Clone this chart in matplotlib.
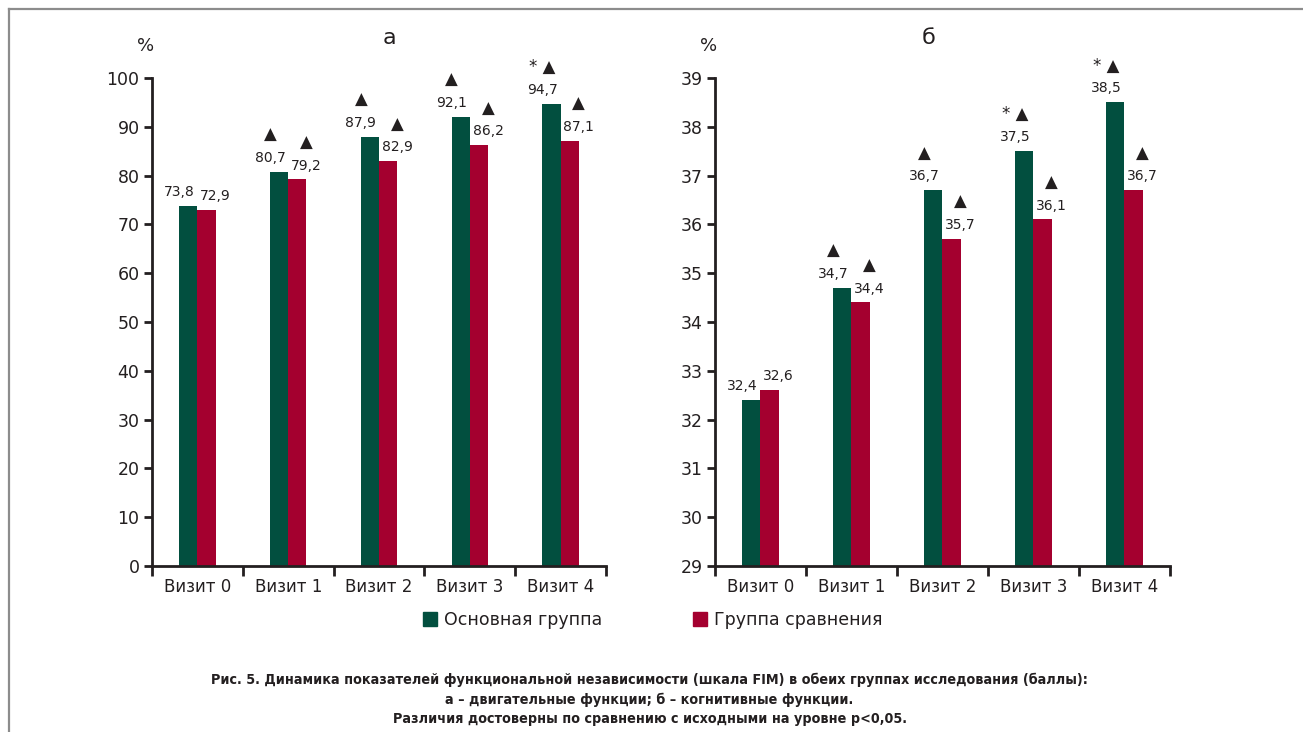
import matplotlib
matplotlib.use('Agg')
import matplotlib.pyplot as plt
from matplotlib.lines import Line2D
from matplotlib.patches import Patch

plt.rcParams['font.family'] = ['DejaVu Sans']

visits = ['Визит 0', 'Визит 1', 'Визит 2', 'Визит 3', 'Визит 4']
groups = ['Основная группа', 'Группа сравнения']

# а - motor functions
motor_main = [73.8, 80.7, 87.9, 92.1, 94.7]
motor_comp = [72.9, 79.2, 82.9, 86.2, 87.1]
motor_main_marks = ['', '▲', '▲', '▲', '* ▲']
motor_comp_marks = ['', '▲', '▲', '▲', '▲']

# б - cognitive functions
cogn_main = [32.4, 34.7, 36.7, 37.5, 38.5]
cogn_comp = [32.6, 34.4, 35.7, 36.1, 36.7]
cogn_main_marks = ['', '▲', '▲', '* ▲', '* ▲']
cogn_comp_marks = ['', '▲', '▲', '▲', '▲']

GREEN = '#024f3f'
RED = '#a4002f'
INK = '#231f20'
W = 0.2

fig = plt.figure(figsize=(13.03, 7.32), dpi=100)


def panel(rect, main, comp, main_marks, comp_marks, ymin, ymax, step, title, title_x):
    ax = fig.add_axes(rect)
    x = list(range(len(visits)))
    ax.bar([i - W / 2 for i in x], main, W, color=GREEN, bottom=0)
    ax.bar([i + W / 2 for i in x], comp, W, color=RED, bottom=0)
    ax.set_xlim(-0.5, len(visits) - 0.5)
    ax.set_ylim(ymin, ymax)
    ax.set_yticks(range(ymin, ymax + 1, step))
    ax.set_xticks(x)
    ax.set_xticklabels(visits, fontsize=12, color=INK)
    ax.set_xticks([i - 0.5 for i in range(len(visits) + 1)], minor=True)
    ax.tick_params(axis='x', which='major', length=0, pad=9)
    ax.tick_params(axis='x', which='minor', length=7, width=2, color=INK, direction='out')
    ax.tick_params(axis='y', length=6, width=2, color=INK, labelsize=12.5, labelcolor=INK, pad=3)
    for s in ['top', 'right']:
        ax.spines[s].set_visible(False)
    for s in ['left', 'bottom']:
        ax.spines[s].set_linewidth(2)
        ax.spines[s].set_color(INK)

    # value labels, with significance marks above them
    for i in x:
        for val, mark, dx in [(main[i], main_marks[i], -0.2),
                              (comp[i], comp_marks[i], 0.2)]:
            lx = i + dx
            ax.annotate(f'{val:.1f}'.replace('.', ','), (lx, val), xytext=(0, 5),
                        textcoords='offset points', ha='center', va='bottom',
                        fontsize=10, color=INK, annotation_clip=False)
            if mark:
                ax.annotate(mark, (lx, val), xytext=(0, 20),
                            textcoords='offset points', ha='center', va='bottom',
                            fontsize=12, color=INK, annotation_clip=False)

    fig.text(rect[0] - 0.005, 0.925, '%', fontsize=13, ha='center', va='bottom', color=INK)
    fig.text(title_x, 0.935, title, fontsize=16, ha='center', va='bottom', color=INK)
    return ax


panel([0.1167, 0.2268, 0.3484, 0.6667], motor_main, motor_comp,
      motor_main_marks, motor_comp_marks, 0, 100, 10, 'а', 0.299)
panel([0.5487, 0.2268, 0.3492, 0.6667], cogn_main, cogn_comp,
      cogn_main_marks, cogn_comp_marks, 29, 39, 1, 'б', 0.713)

# legend
handles = [Patch(color=GREEN), Patch(color=RED)]
fig.legend(handles[:1], groups[:1], loc='center left', bbox_to_anchor=(0.313, 0.153),
           frameon=False, fontsize=12.5, handlelength=0.8, handleheight=0.8,
           handletextpad=0.4, labelcolor=INK)
fig.legend(handles[1:], groups[1:], loc='center left', bbox_to_anchor=(0.52, 0.153),
           frameon=False, fontsize=12.5, handlelength=0.8, handleheight=0.8,
           handletextpad=0.4, labelcolor=INK)

caption = ['Рис. 5. Динамика показателей функциональной независимости (шкала FIM) в обеих группах исследования (баллы):',
           'а – двигательные функции; б – когнитивные функции.',
           'Различия достоверны по сравнению с исходными на уровне р<0,05.']
for k, line in enumerate(caption):
    fig.text(0.4985, 0.071 - k * 0.0268, line, fontsize=10.3, fontweight='bold',
             fontstretch='condensed', ha='center', va='center', color=INK)

# frame lines along the top and left edge
fig.add_artist(Line2D([0.007, 1.0], [0.988, 0.988], color='#8c8c8c', lw=1.6))
fig.add_artist(Line2D([0.007, 0.007], [0.0, 0.988], color='#8c8c8c', lw=1.6))

fig.savefig('out.png', dpi=100)
